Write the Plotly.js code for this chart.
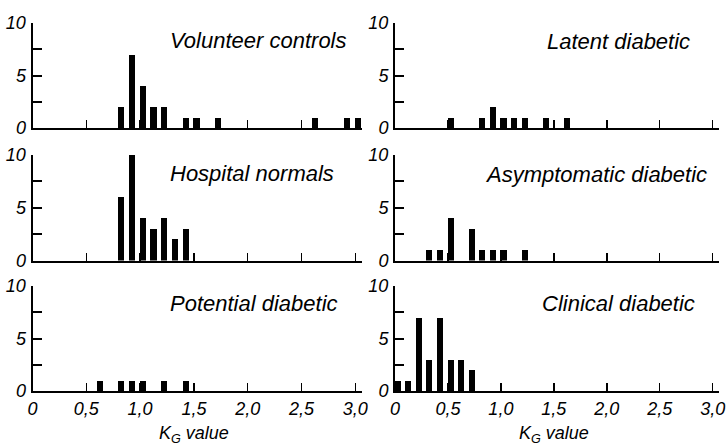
<!DOCTYPE html>
<html><head><meta charset="utf-8">
<script src="https://cdn.plot.ly/plotly-3.0.1.min.js"></script>
<style>html,body{margin:0;padding:0;background:#fff}#chart{width:727px;height:446px}</style>
</head><body><div id="chart"></div>
<script>
// K_G bin centres and counts
const volunteerX = [0.825,0.925,1.025,1.125,1.225,1.425,1.525,1.725,2.625,2.925,3.025];
const volunteerY = [2,7,4,2,2,1,1,1,1,1,1];
const hospitalX = [0.825,0.925,1.025,1.125,1.225,1.325,1.425];
const hospitalY = [6,10,4,3,4,2,3];
const potentialX = [0.625,0.825,0.925,1.025,1.225,1.425];
const potentialY = [1,1,1,1,1,1];
const latentX = [0.525,0.825,0.925,1.025,1.125,1.225,1.425,1.625];
const latentY = [1,1,2,1,1,1,1,1];
const asymptomaticX = [0.325,0.425,0.525,0.725,0.825,0.925,1.025,1.225];
const asymptomaticY = [1,1,4,3,1,1,1,1];
const clinicalX = [0.025,0.125,0.225,0.325,0.425,0.525,0.625,0.725];
const clinicalY = [1,1,7,3,7,3,3,2];

const panelNames = ["Volunteer controls","Latent diabetic","Hospital normals","Asymptomatic diabetic","Potential diabetic","Clinical diabetic"];
const xTickValues = [0,0.5,1.0,1.5,2.0,2.5,3.0];
const xTickLabels = ["0","0,5","1,0","1,5","2,0","2,5","3,0"];
const yTickValues = [0,5,10];
const yTickLabels = ["0","5","10"];
const yMinorTicks = [2.5,7.5];
const xTitle = "K<sub>G</sub> value";

const W = 727, H = 446;
const px = v => v / W;
const py = v => 1 - v / H;
const it = s => '<i>' + s + '</i>';

const FONT = 'Liberation Sans, Arial, sans-serif';
const seriesX = [volunteerX, latentX, hospitalX, asymptomaticX, potentialX, clinicalX];
const seriesY = [volunteerY, latentY, hospitalY, asymptomaticY, potentialY, clinicalY];

// panel frames in pixels: [left, right] and [top(10), bottom(0)]
const colX = [[32.5, 361.8], [395, 719]];
const rowY = [[23, 128], [155, 260.5], [286, 391]];

const data = [];
const layout = {
  width: W, height: H,
  margin: {l:0, r:0, t:0, b:0},
  paper_bgcolor: '#fff', plot_bgcolor: 'rgba(0,0,0,0)',
  showlegend: false,
  bargap: 0,
  annotations: []
};

for (let i = 0; i < 6; i++) {
  const row = Math.floor(i / 2), col = i % 2;
  const n = i === 0 ? '' : String(i + 1);
  data.push({
    type: 'bar', x: seriesX[i], y: seriesY[i], width: 0.058,
    marker: {color: '#000', line: {width: 0}},
    xaxis: 'x' + n, yaxis: 'y' + n, hoverinfo: 'skip'
  });
  const bottom = row === 2;
  layout['xaxis' + n] = {
    domain: [px(colX[col][0]), px(colX[col][1])],
    anchor: 'y' + n,
    range: [0, 3.06],
    showline: true, linewidth: 2, linecolor: '#000',
    ticks: 'inside', ticklen: 8, tickwidth: 1.5, tickcolor: '#000',
    tickvals: xTickValues, ticktext: xTickLabels.map(it),
    showticklabels: bottom,
    ticklabeloverflow: 'allow',
    tickfont: {family: FONT, size: 18, color: '#000'},
    showgrid: false, zeroline: false, fixedrange: true
  };
  layout['yaxis' + n] = {
    domain: [py(rowY[row][1]), py(rowY[row][0])],
    anchor: 'x' + n,
    range: [0, 10],
    showline: true, linewidth: 2, linecolor: '#000',
    ticks: 'inside', ticklen: 9, tickwidth: 2, tickcolor: '#000',
    tickvals: yTickValues, ticktext: yTickLabels.map(it),
    minor: {tickvals: yMinorTicks, ticks: 'inside', ticklen: 9, tickwidth: 2, tickcolor: '#000', showgrid: false},
    ticklabelstandoff: 1,
    ticklabeloverflow: 'allow',
    tickfont: {family: FONT, size: 18, color: '#000'},
    showgrid: false, zeroline: false, fixedrange: true
  };
}

// panel titles (left edge x, centre y in pixels)
const titlePos = [[168, 40], [545, 41], [168, 173], [483, 174], [168, 303], [540, 303]];
panelNames.forEach((t, i) => {
  layout.annotations.push({
    text: it(t), xref: 'paper', yref: 'paper',
    x: px(titlePos[i][0]), y: py(titlePos[i][1]),
    xanchor: 'left', yanchor: 'middle', showarrow: false,
    font: {family: FONT, size: 22, color: '#000'}
  });
});
// x axis titles
[[157, 434], [517, 434]].forEach(p => {
  layout.annotations.push({
    text: it(xTitle), xref: 'paper', yref: 'paper',
    x: px(p[0]), y: py(p[1]), xanchor: 'left', yanchor: 'middle', showarrow: false,
    font: {family: FONT, size: 18, color: '#000'}
  });
});

Plotly.newPlot('chart', data, layout, {staticPlot: true, displayModeBar: false});
</script></body></html>
